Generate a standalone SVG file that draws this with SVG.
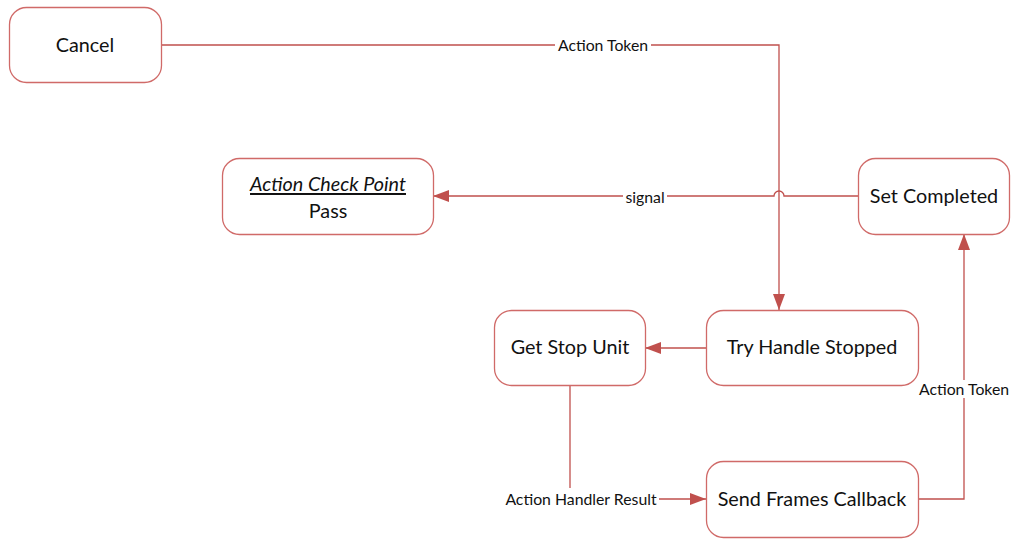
<svg xmlns="http://www.w3.org/2000/svg" width="1011" height="539" viewBox="0 0 1011 539">
  <style>
    .node { fill: #ffffff; stroke: #d06a68; stroke-width: 1.3; }
    .ntext { font-family: Lato, "Open Sans", sans-serif; font-size: 19.8px; fill: #111111; text-anchor: middle; dominant-baseline: central; }
    .edge { fill: none; stroke: #c0504d; stroke-width: 1.3; }
    .ltext { font-family: Lato, "Open Sans", sans-serif; font-size: 15.8px; fill: #111111; text-anchor: middle; dominant-baseline: central; }
    .lbg { fill: #ffffff; }
  </style>
  <defs>
    <marker id="arrow" viewBox="0 0 16 12" refX="16" refY="6" markerWidth="16" markerHeight="12" markerUnits="userSpaceOnUse" orient="auto">
      <path d="M0,0 L16,6 L0,12 Z" fill="#c0504d"/>
    </marker>
  </defs>

  <rect width="1011" height="539" fill="#ffffff"/>

  <g id="connectors">
    <!-- Cancel to Try Handle Stopped -->
    <path class="edge" d="M161,45 H779 V310" marker-end="url(#arrow)"/>
    <rect class="lbg" x="555" y="37" width="96" height="16"/>
    <text class="ltext" x="603" y="44">Action Token</text>

    <!-- Set Completed to Action Check Point, hopping over the vertical line -->
    <path class="edge" d="M858,196 H784 A5,5 0 0 0 774,196 H433" marker-end="url(#arrow)"/>
    <rect class="lbg" x="623" y="188" width="44" height="16"/>
    <text class="ltext" x="645" y="196">signal</text>

    <!-- Get Stop Unit to Send Frames Callback -->
    <path class="edge" d="M570,385 V499 H706" marker-end="url(#arrow)"/>
    <rect class="lbg" x="503" y="488" width="156" height="22"/>
    <text class="ltext" x="581" y="498">Action Handler Result</text>

    <!-- Try Handle Stopped to Get Stop Unit -->
    <path class="edge" d="M706,348 H645" marker-end="url(#arrow)"/>

    <!-- Send Frames Callback to Set Completed -->
    <path class="edge" d="M918,499 H964 V234" marker-end="url(#arrow)"/>
    <rect class="lbg" x="916" y="380" width="95" height="18"/>
    <text class="ltext" x="964" y="388">Action Token</text>
  </g>

  <g id="cancel">
    <rect class="node" x="9.5" y="7.5" width="152" height="75" rx="17"/>
    <text class="ntext" x="85" y="44">Cancel</text>
  </g>

  <g id="action-check-point">
    <rect class="node" x="222.5" y="158.5" width="211" height="76" rx="17"/>
    <text class="ntext" x="328" y="183" font-style="italic" text-decoration="underline">Action Check Point</text>
    <text class="ntext" x="328" y="210">Pass</text>
  </g>

  <g id="set-completed">
    <rect class="node" x="858.5" y="158.5" width="151" height="76" rx="17"/>
    <text class="ntext" x="934" y="195">Set Completed</text>
  </g>

  <g id="get-stop-unit">
    <rect class="node" x="494.5" y="310.5" width="151" height="75" rx="17"/>
    <text class="ntext" x="570" y="346">Get Stop Unit</text>
  </g>

  <g id="try-handle-stopped">
    <rect class="node" x="706.5" y="310.5" width="212" height="75" rx="17"/>
    <text class="ntext" x="812" y="346">Try Handle Stopped</text>
  </g>

  <g id="send-frames-callback">
    <rect class="node" x="706.5" y="461.5" width="212" height="76" rx="17"/>
    <text class="ntext" x="812" y="498">Send Frames Callback</text>
  </g>
</svg>
